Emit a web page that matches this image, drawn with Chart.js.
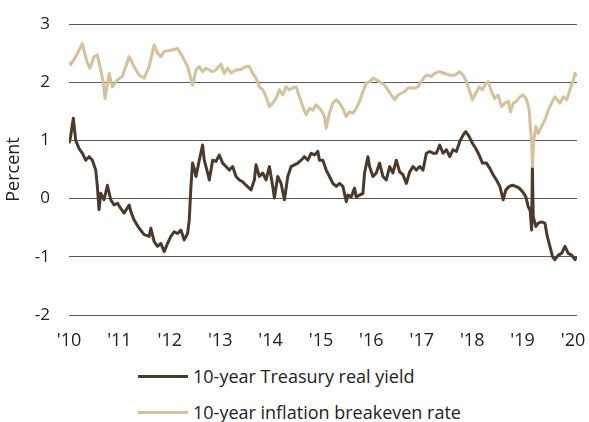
<!DOCTYPE html>
<html>
<head>
<meta charset="utf-8">
<script src="https://cdn.jsdelivr.net/npm/chart.js@4"></script>
<style>
  body { margin: 0; background: #fff; font-family: 'Open Sans', sans-serif; }
  #wrap { position: relative; width: 589px; height: 422px; }
  #chart { position: absolute; left: 0; top: 0; }
  .legend { position: absolute; left: 138px; top: 358px; color: #222; font-size: 18px; }
  .legend-item { display: flex; align-items: center; height: 36px; }
  .swatch { width: 50px; height: 3px; margin-right: 5px; }
</style>
</head>
<body>
<div id="wrap">
  <canvas id="chart" width="589" height="350"></canvas>
  <div class="legend" id="legend"></div>
</div>
<script>
// Values (decimal years, percent)
const seriesNames = ['10-year Treasury real yield', '10-year inflation breakeven rate'];
const seriesColors = ['#4b3a2c', '#d5c19c'];

const realYieldDates = [
  2010.0, 2010.033, 2010.086, 2010.133, 2010.199, 2010.265, 2010.331, 2010.398, 2010.464, 2010.530,
  2010.563, 2010.596, 2010.630, 2010.696, 2010.762, 2010.828, 2010.895, 2010.961, 2011.027, 2011.093,
  2011.193, 2011.226, 2011.292, 2011.392, 2011.491, 2011.590, 2011.624, 2011.690, 2011.756, 2011.822,
  2011.889, 2011.955, 2012.021, 2012.087, 2012.154, 2012.220, 2012.286, 2012.353, 2012.386, 2012.419,
  2012.452, 2012.485, 2012.519, 2012.585, 2012.651, 2012.684, 2012.750, 2012.784, 2012.850, 2012.916,
  2012.982, 2013.049, 2013.115, 2013.181, 2013.247, 2013.314, 2013.380, 2013.446, 2013.513, 2013.612,
  2013.678, 2013.711, 2013.778, 2013.844, 2013.910, 2013.976, 2014.043, 2014.076, 2014.142, 2014.208,
  2014.275, 2014.341, 2014.407, 2014.474, 2014.540, 2014.606, 2014.672, 2014.739, 2014.805, 2014.871,
  2014.937, 2014.970, 2015.037, 2015.103, 2015.169, 2015.235, 2015.302, 2015.368, 2015.434, 2015.501,
  2015.534, 2015.600, 2015.666, 2015.699, 2015.766, 2015.832, 2015.865, 2015.931, 2015.964, 2016.031,
  2016.097, 2016.163, 2016.229, 2016.296, 2016.362, 2016.428, 2016.494, 2016.561, 2016.627, 2016.693,
  2016.760, 2016.826, 2016.892, 2016.958, 2017.025, 2017.091, 2017.157, 2017.224, 2017.290, 2017.356,
  2017.422, 2017.489, 2017.555, 2017.621, 2017.687, 2017.754, 2017.820, 2017.873, 2017.939, 2018.005,
  2018.072, 2018.138, 2018.204, 2018.284, 2018.350, 2018.416, 2018.483, 2018.549, 2018.615, 2018.668,
  2018.734, 2018.801, 2018.867, 2018.933, 2018.999, 2019.066, 2019.112, 2019.150, 2019.180, 2019.195,
  2019.211, 2019.265, 2019.311, 2019.377, 2019.443, 2019.490, 2019.543, 2019.596, 2019.642, 2019.709,
  2019.775, 2019.841, 2019.907, 2019.974, 2020.040, 2020.073
];
const realYieldValues = [
  0.95, 1.07, 1.38, 1.00, 0.86, 0.78, 0.66, 0.72, 0.66, 0.49,
  0.21, -0.19, 0.09, -0.02, 0.23, -0.02, -0.11, -0.08, -0.17, -0.25,
  -0.11, -0.22, -0.37, -0.51, -0.62, -0.65, -0.51, -0.74, -0.82, -0.77,
  -0.91, -0.77, -0.65, -0.57, -0.60, -0.54, -0.71, -0.60, -0.37, 0.20,
  0.61, 0.52, 0.38, 0.66, 0.92, 0.66, 0.44, 0.32, 0.66, 0.64,
  0.75, 0.61, 0.55, 0.49, 0.55, 0.38, 0.32, 0.29, 0.23, 0.15,
  0.32, 0.58, 0.38, 0.44, 0.32, 0.55, 0.21, 0.01, 0.38, 0.26,
  -0.02, 0.38, 0.55, 0.58, 0.61, 0.66, 0.72, 0.66, 0.78, 0.75,
  0.81, 0.66, 0.66, 0.49, 0.38, 0.26, 0.21, 0.26, 0.21, -0.05,
  0.06, 0.03, 0.18, 0.03, 0.06, 0.09, 0.44, 0.72, 0.55, 0.38,
  0.44, 0.61, 0.38, 0.32, 0.55, 0.44, 0.66, 0.46, 0.41, 0.26,
  0.46, 0.55, 0.49, 0.55, 0.49, 0.78, 0.81, 0.78, 0.78, 0.92,
  0.78, 0.84, 0.72, 0.84, 0.81, 0.98, 1.09, 1.15, 1.07, 0.95,
  0.86, 0.75, 0.61, 0.61, 0.52, 0.41, 0.32, 0.21, -0.02, 0.15,
  0.21, 0.23, 0.21, 0.18, 0.12, 0.03, -0.14, -0.20, -0.54, 0.55,
  -0.31, -0.48, -0.42, -0.40, -0.42, -0.65, -0.82, -1.00, -1.05, -0.97,
  -0.94, -0.82, -0.94, -0.97, -1.05, -1.00
];

const breakevenDates = [
  2010.0, 2010.033, 2010.133, 2010.199, 2010.265, 2010.311, 2010.364, 2010.417, 2010.497, 2010.563,
  2010.630, 2010.683, 2010.716, 2010.795, 2010.861, 2010.961, 2011.060, 2011.127, 2011.193, 2011.292,
  2011.392, 2011.491, 2011.590, 2011.690, 2011.756, 2011.822, 2011.889, 2012.021, 2012.154, 2012.253,
  2012.353, 2012.452, 2012.519, 2012.585, 2012.651, 2012.717, 2012.784, 2012.850, 2012.916, 2013.016,
  2013.082, 2013.148, 2013.214, 2013.314, 2013.413, 2013.513, 2013.579, 2013.645, 2013.711, 2013.778,
  2013.844, 2013.910, 2013.976, 2014.043, 2014.109, 2014.175, 2014.242, 2014.308, 2014.374, 2014.440,
  2014.507, 2014.573, 2014.639, 2014.705, 2014.772, 2014.838, 2014.904, 2014.970, 2015.004, 2015.070,
  2015.103, 2015.169, 2015.235, 2015.302, 2015.368, 2015.434, 2015.501, 2015.567, 2015.633, 2015.699,
  2015.766, 2015.832, 2015.898, 2015.964, 2016.031, 2016.097, 2016.163, 2016.263, 2016.329, 2016.395,
  2016.461, 2016.528, 2016.594, 2016.660, 2016.727, 2016.793, 2016.859, 2016.925, 2016.992, 2017.058,
  2017.124, 2017.190, 2017.257, 2017.323, 2017.356, 2017.455, 2017.555, 2017.654, 2017.754, 2017.820,
  2017.886, 2017.952, 2018.005, 2018.072, 2018.138, 2018.204, 2018.271, 2018.317, 2018.383, 2018.449,
  2018.516, 2018.582, 2018.648, 2018.715, 2018.761, 2018.814, 2018.880, 2018.946, 2019.013, 2019.079,
  2019.132, 2019.158, 2019.180, 2019.195, 2019.225, 2019.265, 2019.311, 2019.377, 2019.443, 2019.510,
  2019.576, 2019.642, 2019.689, 2019.742, 2019.808, 2019.874, 2019.940, 2020.007, 2020.040, 2020.073
];
const breakevenValues = [
  2.35, 2.30, 2.44, 2.55, 2.66, 2.50, 2.33, 2.24, 2.44, 2.47,
  2.21, 1.98, 1.72, 2.15, 1.92, 2.04, 2.10, 2.27, 2.44, 2.27,
  2.12, 2.07, 2.27, 2.64, 2.50, 2.44, 2.53, 2.55, 2.58, 2.44,
  2.27, 1.95, 2.21, 2.27, 2.18, 2.24, 2.21, 2.18, 2.21, 2.31,
  2.15, 2.24, 2.16, 2.21, 2.22, 2.27, 2.27, 2.15, 2.07, 1.92,
  1.87, 1.75, 1.58, 1.64, 1.72, 1.87, 1.78, 1.92, 1.87, 1.90,
  1.92, 1.75, 1.58, 1.44, 1.55, 1.52, 1.61, 1.55, 1.52, 1.41,
  1.21, 1.47, 1.64, 1.70, 1.64, 1.55, 1.41, 1.49, 1.47, 1.55,
  1.67, 1.84, 1.98, 2.01, 2.07, 2.04, 2.01, 1.95, 1.87, 1.78,
  1.70, 1.78, 1.81, 1.84, 1.90, 1.90, 1.90, 1.92, 2.01, 2.10,
  2.12, 2.10, 2.15, 2.18, 2.18, 2.15, 2.12, 2.12, 2.18, 2.12,
  2.01, 1.84, 1.70, 1.81, 1.92, 1.87, 1.98, 2.01, 1.84, 1.72,
  1.78, 1.58, 1.64, 1.67, 1.49, 1.64, 1.67, 1.75, 1.78, 1.70,
  1.52, 1.18, 1.01, 0.55, 1.01, 1.24, 1.12, 1.24, 1.35, 1.52,
  1.64, 1.75, 1.70, 1.64, 1.75, 1.70, 1.87, 2.04, 2.15, 2.10
];

const yearTicks = [2010, 2011, 2012, 2013, 2014, 2015, 2016, 2017, 2018, 2019, 2020];
const yearLabels = ["'10", "'11", "'12", "'13", "'14", "'15", "'16", "'17", "'18", "'19", "'20"];

const textColor = '#222';
const fontFamily = "'Open Sans', sans-serif";

const toPoints = (xs, ys) => xs.map((x, i) => ({ x: x, y: ys[i] }));

new Chart(document.getElementById('chart').getContext('2d'), {
    type: 'line',
    data: {
        datasets: [
            {
                label: seriesNames[1],
                data: toPoints(breakevenDates, breakevenValues),
                borderColor: seriesColors[1],
                borderWidth: 3
            },
            {
                label: seriesNames[0],
                data: toPoints(realYieldDates, realYieldValues),
                borderColor: seriesColors[0],
                borderWidth: 3
            }
        ]
    },
    options: {
        responsive: false,
        animation: false,
        layout: { padding: { left: 0, right: 12, top: 24, bottom: 0 } },
        elements: { point: { radius: 0 }, line: { tension: 0, borderJoinStyle: 'round' } },
        plugins: { legend: { display: false }, tooltip: { enabled: false } },
        scales: {
            x: {
                type: 'linear',
                min: 2010,
                max: 2020.08,
                grid: { display: false, drawTicks: false },
                border: { display: false },
                afterBuildTicks: scale => { scale.ticks = yearTicks.map(v => ({ value: v })); },
                afterFit: scale => {
                    scale.height = 35;
                    scale.paddingLeft = 0;
                    scale.paddingRight = 0;
                },
                ticks: {
                    autoSkip: false,
                    maxRotation: 0,
                    padding: 15,
                    color: textColor,
                    font: { family: fontFamily, size: 18 },
                    callback: (value, index) => yearLabels[index]
                }
            },
            y: {
                min: -2,
                max: 3,
                grid: { color: '#5a5a5a', lineWidth: 1, drawTicks: false },
                border: { display: false },
                afterFit: scale => {
                    scale.width = 69;
                    scale.paddingTop = 0;
                    scale.paddingBottom = 0;
                },
                ticks: { stepSize: 1, padding: 19, color: textColor, font: { family: fontFamily, size: 17 } },
                title: {
                    display: true,
                    text: 'Percent',
                    color: textColor,
                    font: { family: fontFamily, size: 18 },
                    padding: { top: 3, bottom: 0 }
                }
            }
        }
    }
});

// Legend stacked below the plot, as in the reference
const legendDiv = document.getElementById('legend');
seriesNames.forEach((name, i) => {
    const item = document.createElement('div');
    item.className = 'legend-item';
    const swatch = document.createElement('span');
    swatch.className = 'swatch';
    swatch.style.background = seriesColors[i];
    const label = document.createElement('span');
    label.textContent = name;
    item.appendChild(swatch);
    item.appendChild(label);
    legendDiv.appendChild(item);
});
</script>
</body>
</html>
